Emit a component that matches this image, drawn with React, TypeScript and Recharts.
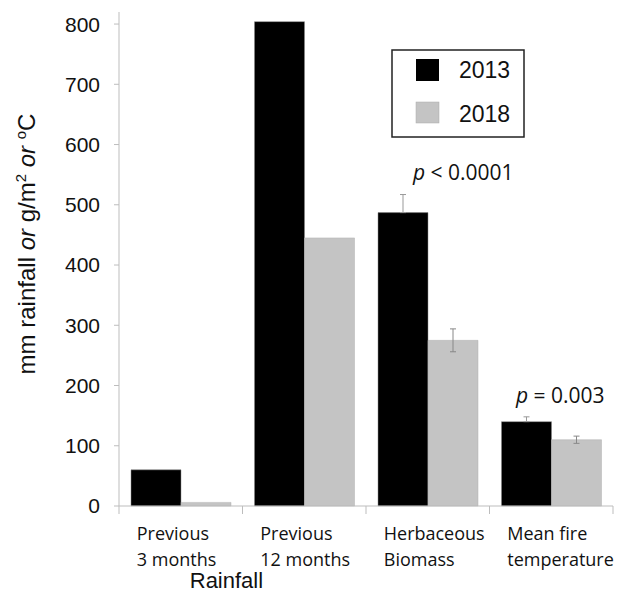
import React from 'react';
import { BarChart, Bar, XAxis, YAxis, ErrorBar } from 'recharts';

const categories = ['Previous 3 months', 'Previous 12 months', 'Herbaceous Biomass', 'Mean fire temperature'];
const labelLine1 = ['Previous', 'Previous', 'Herbaceous', 'Mean fire'];
const labelLine2 = ['3 months', '12 months', 'Biomass', 'temperature'];
const values2013 = [60, 804, 487, 140];
const values2018 = [6, 445, 275, 110];
const err2013 = [0, 0, 30, 8];
const err2018 = [0, 0, 19, 6];
const yTicks = [0, 100, 200, 300, 400, 500, 600, 700, 800];

const data = categories.map((name, i) => ({
  name,
  y2013: values2013[i],
  y2018: values2018[i],
  e2013: err2013[i] ? [0, err2013[i]] : null,
  e2018: err2018[i] ? err2018[i] : null,
}));

const AXIS = '#bdbdbd';
const HALF_BAND = 61.75;
const SANS = "Arial, 'Liberation Sans', sans-serif";

const XTick = (props: any) => {
  const { x, y, index } = props;
  const txt = { fontFamily: '"Open Sans", sans-serif', fontSize: 18, fill: '#111' };
  return (
    <g>
      <line x1={x - HALF_BAND} x2={x - HALF_BAND} y1={y} y2={y + 8} stroke={AXIS} />
      {index === categories.length - 1 && (
        <line x1={x + HALF_BAND} x2={x + HALF_BAND} y1={y} y2={y + 8} stroke={AXIS} />
      )}
      <text x={x - 44} y={y + 34} textAnchor="start" {...txt}>{labelLine1[index]}</text>
      <text x={x - 44} y={y + 60} textAnchor="start" {...txt}>{labelLine2[index]}</text>
      {index === 0 && (
        <text x={x + 9} y={y + 82} textAnchor="start" fontFamily={SANS} fontSize={22} fill="#111">
          Rainfall
        </text>
      )}
    </g>
  );
};

const YLabel = () => (
  <text
    x={35}
    y={244}
    transform="rotate(-90, 35, 244)"
    textAnchor="middle"
    fontFamily={SANS}
    fontSize={24}
    fill="#111"
  >
    mm rainfall <tspan fontStyle="italic">or</tspan> g/m<tspan fontSize={15} dy={-9}>2</tspan>
    <tspan dy={9}> </tspan>
    <tspan fontStyle="italic">or</tspan> <tspan fontSize={15} dy={-9}>o</tspan>
    <tspan dy={9}>C</tspan>
  </text>
);

export default function App() {
  const pFont = '"Open Sans", sans-serif';
  return (
    <div style={{ position: 'absolute', left: 0, top: 0, width: 618, height: 602, background: '#fff' }}>
      <BarChart
        width={618}
        height={602}
        data={data}
        margin={{ top: 12, right: 5, left: 0, bottom: 0 }}
        barCategoryGap={12}
        barGap={0}
      >
        <XAxis
          dataKey="name"
          height={96}
          axisLine={{ stroke: AXIS }}
          tickLine={false}
          tickSize={0}
          tickMargin={0}
          tick={<XTick />}
          interval={0}
        />
        <YAxis
          width={119}
          domain={[0, 820]}
          ticks={yTicks}
          axisLine={{ stroke: AXIS }}
          tickLine={{ stroke: AXIS }}
          tickSize={5}
          tickMargin={14}
          tick={{ fontFamily: SANS, fontSize: 21, fill: '#111' }}
          label={{ content: () => <YLabel /> }}
        />
        <Bar dataKey="y2013" fill="#000" stroke="#888" strokeWidth={0.5} isAnimationActive={false}>
          <ErrorBar dataKey="e2013" width={3} stroke="#999" strokeWidth={1} isAnimationActive={false} />
        </Bar>
        <Bar dataKey="y2018" fill="#c4c4c4" stroke="#b0b0b0" strokeWidth={0.5} isAnimationActive={false}>
          <ErrorBar dataKey="e2018" width={3} stroke="#888" strokeWidth={1} isAnimationActive={false} />
        </Bar>
      </BarChart>
      <svg width={618} height={602} style={{ position: 'absolute', left: 0, top: 0, pointerEvents: 'none' }}>
        <rect x={392} y={50} width={132} height={87} fill="#fff" stroke="#222" strokeWidth={1.5} />
        <rect x={416} y={59} width={23} height={22} fill="#000" />
        <rect x={416} y={102} width={23} height={21} fill="#c4c4c4" stroke="#aaa" strokeWidth={0.5} />
        <text x={459} y={78} fontFamily={SANS} fontSize={23} fill="#111">2013</text>
        <text x={459} y={122} fontFamily={SANS} fontSize={23} fill="#111">2018</text>
        <text x={413} y={179.5} fontFamily={pFont} fontSize={21} fill="#111">
          <tspan fontStyle="italic">p</tspan> &lt; 0.0001
        </text>
        <text x={516} y={402.5} fontFamily={pFont} fontSize={21} fill="#111">
          <tspan fontStyle="italic">p</tspan> = 0.003
        </text>
      </svg>
    </div>
  );
}
